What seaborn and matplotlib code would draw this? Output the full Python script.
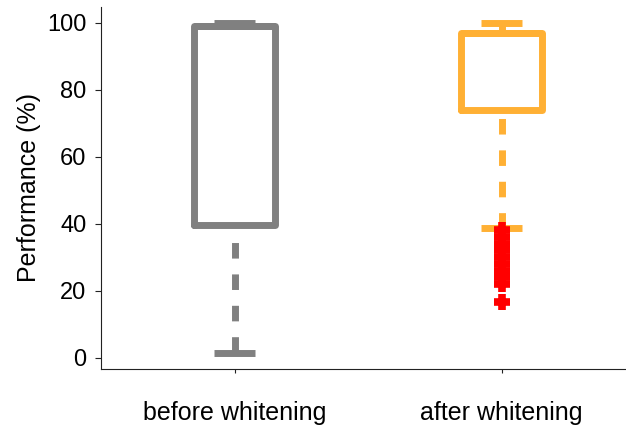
import numpy as np
import pandas as pd
import matplotlib
matplotlib.use("Agg")
import matplotlib.pyplot as plt
import seaborn as sns

# values (percent)
conditions = ["before whitening", "after whitening"]
before = [1.5, 20, 39.5, 70, 99, 99, 99, 99.5, 100]
after = [16.5, 22, 24, 26, 28, 30, 32, 34, 36, 38, 38.7,
         74, 76, 78, 80, 82, 84, 86, 88, 90, 93, 95,
         97, 97, 97, 97, 97, 97, 97, 97, 97, 97, 97, 97,
         97.5, 98, 98, 98.5, 99, 99, 99.5, 99.5, 100, 100, 100]
colors = ["#808080", "#FFB034"]
flier_color = "#FF0000"
yticks = [0, 20, 40, 60, 80, 100]

df = pd.DataFrame({
    "condition": [conditions[0]] * len(before) + [conditions[1]] * len(after),
    "performance": before + after,
})

sns.set_style("ticks")
plt.rcParams["font.family"] = ["Liberation Sans", "DejaVu Sans"]
plt.rcParams["lines.scale_dashes"] = False
plt.rcParams["text.color"] = "black"
plt.rcParams["axes.labelcolor"] = "black"
plt.rcParams["xtick.color"] = "black"
plt.rcParams["ytick.color"] = "black"

fig = plt.figure(figsize=(6.26, 4.33), dpi=100)
ax = fig.add_axes([101 / 626, 64 / 433, 534 / 626, 362 / 433])

sns.boxplot(data=df, x="condition", y="performance", hue="condition",
            order=conditions, hue_order=conditions, palette=colors,
            saturation=1, fill=False, width=0.3, whis=1.55, linewidth=5,
            legend=False, ax=ax)

ax.set_xlim(-0.5, 1.5)
ax.set_ylim(-3.4, 104.7)

# dashed whiskers, pattern lined up so a dash ends at the cap
on, off = 11.2, 11.4
for line in ax.lines:
    xd = np.asarray(line.get_xdata(), dtype=float)
    yd = np.asarray(line.get_ydata(), dtype=float)
    if line.get_marker() not in ("None", None, "") or line.get_linestyle() == "None":
        line.set_marker("+")
        line.set_markersize(11.5)
        line.set_markeredgewidth(5.5)
        line.set_markeredgecolor(flier_color)
        line.set_markerfacecolor(flier_color)
        line.set_zorder(5)
        continue
    if len(xd) == 2 and xd[0] == xd[1]:
        p0 = ax.transData.transform((xd[0], yd[0]))[1]
        p1 = ax.transData.transform((xd[1], yd[1]))[1]
        L = abs(p1 - p0) * 72 / fig.dpi
        offset = (on - L) % (on + off)
        line.set_linestyle((offset, (on, off)))
        line.set_dash_capstyle("butt")
    elif len(xd) == 2:
        line.set_solid_capstyle("butt")

sns.despine(ax=ax)
for s in ["left", "bottom"]:
    ax.spines[s].set_linewidth(0.8)
    ax.spines[s].set_color("#222222")

ax.set_yticks(yticks)
ax.tick_params(axis="y", length=4.5, width=0.8, labelsize=17, pad=6,
               color="#222222", labelcolor="black")
ax.tick_params(axis="x", length=3, width=0.8, labelsize=18, pad=20,
               color="#222222", labelcolor="black")
ax.set_xlabel("")
ax.set_ylabel("Performance (%)", fontsize=18, labelpad=4, color="black")

fig.savefig("out.png", dpi=100)
